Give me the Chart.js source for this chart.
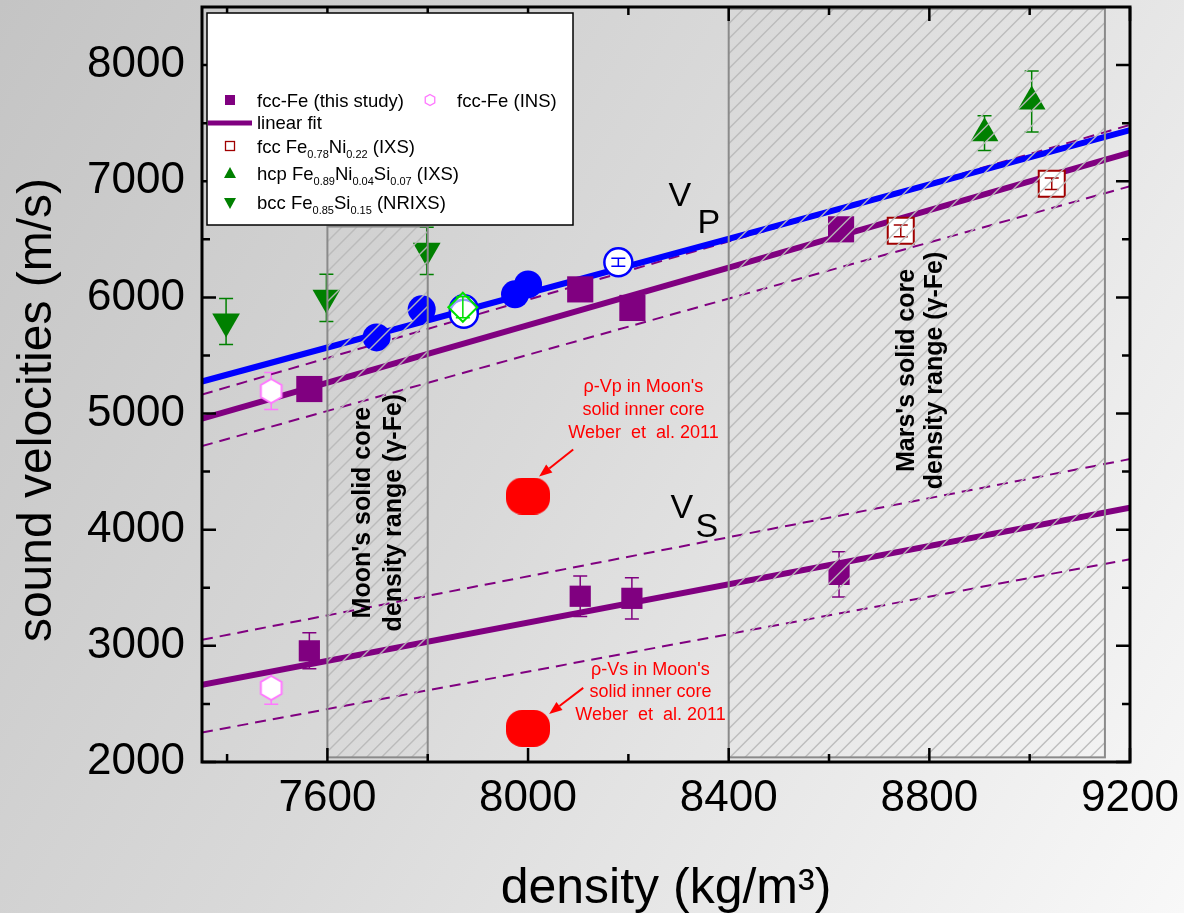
<!DOCTYPE html>
<html>
<head>
<meta charset="utf-8">
<script src="https://cdn.jsdelivr.net/npm/chart.js@4.4.0/dist/chart.umd.min.js"></script>
<style>
  html, body { margin: 0; padding: 0; }
  body {
    width: 1184px; height: 913px; overflow: hidden;
    background: linear-gradient(120deg, #c4c4c4 0%, #d9d9d9 45%, #f8f8f8 100%);
  }
  #graph { display: block; }
</style>
</head>
<body>
<canvas id="graph" width="1184" height="913"></canvas>
<script>
// 横軸の目盛り
const xTickValues = [7600, 8000, 8400, 8800, 9200];
const xMinorTicks = [7400, 7800, 8200, 8600, 9000];
// 縦軸の目盛り
const yTickValues = [2000, 3000, 4000, 5000, 6000, 7000, 8000];
const yMinorTicks = [2500, 3500, 4500, 5500, 6500, 7500];

// fcc-Fe (this study) Vp / Vs
const fccVpDensity = [7564, 8104, 8208, 8624];
const fccVpVel = [5211, 6069, 5909, 6586];
const fccVsDensity = [7564, 8104, 8207, 8620];
const fccVsVel = [2957, 3427, 3409, 3615];
const fccVsErr = [155, 175, 178, 195];

// fcc-Fe (INS)
const insDensity = [7488, 7488];
const insVel = [5194, 2638];
const insErr = [160, 140];

// fcc Fe0.78Ni0.22 (IXS)
const feNiDensity = [8743, 9044];
const feNiVel = [6573, 6978];
const feNiErr = [50, 50];

// hcp Fe0.89Ni0.04Si0.07 (IXS)
const hcpDensity = [8910, 9004];
const hcpVel = [7414, 7687];
const hcpErr = [150, 263];

// bcc Fe0.85Si0.15 (NRIXS)
const bccDensity = [7398, 7598, 7798];
const bccVel = [5793, 5996, 6401];
const bccErr = [198, 203, 203];

// 青丸 (Vp)
const blueDensity = [7698, 7788, 7974, 8000];
const blueVel = [5655, 5897, 6026, 6112];
const blueOpenDensity = [7872, 7872, 8180];
const blueOpenVel = [5897, 5860, 6302];
const blueOpenErr = [0, 0, 35];
const diamondDensity = [7870];
const diamondVel = [5915];
const diamondErr = [90];

// Weber et al. 2011 (月の内核)
const moonDensity = [8000, 8000];
const moonVel = [4290, 2290];

// 直線フィット (両端)
const fitDensity = [7350, 9200];
const blueFitVp = [5276, 7440];
const vpFit = [4957, 7246];
const vpFitUpper = [5164, 7485];
const vpFitLower = [4720, 6957];
const vsFit = [2664, 4190];
const vsFitUpper = [3052, 4608];
const vsFitLower = [2254, 3746];

// 密度範囲 (月, 火星)
const rangeDensity = [[7600, 7800], [8400, 9150]];
const rangeVel = [[2040, 6610], [2040, 8485]];

const PURPLE = '#800080';
const GREEN = '#008000';
const BLUE = '#0000ff';
const DARKRED = '#a00000';
const PINK = '#ff77ff';
const RED = '#ff0000';
const FONT = '"Liberation Sans", Arial, sans-serif';

function pts(xs, ys) {
  return xs.map(function(x, i) { return {x: x, y: ys[i]}; });
}

function hexPath(g, cx, cy, r) {
  g.beginPath();
  for (let k = 0; k < 6; k++) {
    const a = -Math.PI / 2 + k * Math.PI / 3;
    const px = cx + r * Math.cos(a), py = cy + r * Math.sin(a);
    if (k === 0) g.moveTo(px, py); else g.lineTo(px, py);
  }
  g.closePath();
}

function makeHexagon(r, lw) {
  const c = document.createElement('canvas');
  const w = Math.ceil(2 * r + lw + 2);
  c.width = w; c.height = w;
  const g = c.getContext('2d');
  hexPath(g, w / 2, w / 2, r);
  g.fillStyle = '#fff'; g.fill();
  g.strokeStyle = PINK; g.lineWidth = lw; g.stroke();
  return c;
}

function makeBlob(w, h) {
  const c = document.createElement('canvas');
  c.width = w; c.height = h;
  const g = c.getContext('2d');
  g.beginPath();
  g.roundRect(0, 0, w, h, 16);
  g.fillStyle = RED; g.fill();
  return c;
}

const hexImg = makeHexagon(12, 2);
const blobImg = makeBlob(44, 37);

function lineSet(ys, color, width, dash) {
  return {
    data: pts(fitDensity, ys), showLine: true, pointRadius: 0,
    borderColor: color, borderWidth: width, borderDash: dash || [],
    fill: false, order: 10
  };
}

const datasets = [
  lineSet(blueFitVp, BLUE, 6),
  lineSet(vpFit, PURPLE, 6),
  lineSet(vpFitUpper, PURPLE, 2, [11, 7]),
  lineSet(vpFitLower, PURPLE, 2, [11, 7]),
  lineSet(vsFit, PURPLE, 6),
  lineSet(vsFitUpper, PURPLE, 2, [11, 7]),
  lineSet(vsFitLower, PURPLE, 2, [11, 7]),
  {data: pts(fccVpDensity, fccVpVel), pointStyle: 'rect', pointRadius: 18.5,
   backgroundColor: PURPLE, borderColor: PURPLE, borderWidth: 0, order: 2},
  {data: pts(fccVsDensity, fccVsVel), pointStyle: 'rect', pointRadius: 15,
   backgroundColor: PURPLE, borderColor: PURPLE, borderWidth: 0, order: 2, errY: fccVsErr},
  {data: pts(insDensity, insVel), pointStyle: hexImg, pointRadius: 12,
   borderColor: PINK, order: 2, errY: insErr},
  {data: pts(feNiDensity, feNiVel), pointStyle: 'rect', pointRadius: 18.4,
   backgroundColor: '#fff', borderColor: DARKRED, borderWidth: 2, order: 2, errY: feNiErr, errTop: true},
  {data: pts(hcpDensity, hcpVel), pointStyle: 'triangle', pointRadius: 16,
   backgroundColor: GREEN, borderColor: GREEN, borderWidth: 0, order: 2, errY: hcpErr},
  {data: pts(bccDensity, bccVel), pointStyle: 'triangle', pointRotation: 180, pointRadius: 16,
   backgroundColor: GREEN, borderColor: GREEN, borderWidth: 0, order: 2, errY: bccErr},
  {data: pts(blueDensity, blueVel), pointStyle: 'circle', pointRadius: 14,
   backgroundColor: BLUE, borderColor: BLUE, borderWidth: 0, order: 2},
  {data: pts(blueOpenDensity, blueOpenVel), pointStyle: 'circle', pointRadius: 14,
   backgroundColor: '#fff', borderColor: BLUE, borderWidth: 2.5, order: 2, errY: blueOpenErr, errTop: true},
  {data: pts(diamondDensity, diamondVel), pointStyle: 'rectRot', pointRadius: 14.5,
   backgroundColor: 'rgba(255,255,255,0.6)', borderColor: '#00e000', borderWidth: 2, order: 1,
   errY: diamondErr, errTop: true},
  {data: pts(moonDensity, moonVel), pointStyle: blobImg, pointRadius: 20, order: 2}
];

// エラーバー
function drawErrorBars(chart, onTop) {
  const ctx = chart.ctx, ys = chart.scales.y;
  chart.data.datasets.forEach(function(ds, i) {
    if (!ds.errY || !!ds.errTop !== onTop) return;
    const meta = chart.getDatasetMeta(i);
    ctx.save();
    ctx.strokeStyle = ds.borderColor;
    ctx.lineWidth = 1.5;
    meta.data.forEach(function(pt, j) {
      const e = ds.errY[j];
      if (!e) return;
      const v = ds.data[j].y;
      const top = ys.getPixelForValue(v + e), bot = ys.getPixelForValue(v - e);
      ctx.beginPath();
      ctx.moveTo(pt.x, top); ctx.lineTo(pt.x, bot);
      ctx.moveTo(pt.x - 7, top); ctx.lineTo(pt.x + 7, top);
      ctx.moveTo(pt.x - 7, bot); ctx.lineTo(pt.x + 7, bot);
      ctx.stroke();
    });
    ctx.restore();
  });
}

// 密度範囲の斜線ボックス
function drawRegions(chart) {
  const {ctx, scales: {x, y}} = chart;
  rangeDensity.forEach(function(xr, i) {
    const x0 = x.getPixelForValue(xr[0]), x1 = x.getPixelForValue(xr[1]);
    const y0 = y.getPixelForValue(rangeVel[i][1]), y1 = y.getPixelForValue(rangeVel[i][0]);
    const h = y1 - y0;
    ctx.save();
    ctx.beginPath(); ctx.rect(x0, y0, x1 - x0, h); ctx.clip();
    ctx.strokeStyle = 'rgba(185,185,185,0.95)';
    ctx.lineWidth = 1.4;
    ctx.beginPath();
    for (let s = x0 - h; s < x1; s += 15) {
      ctx.moveTo(s, y1); ctx.lineTo(s + h, y0);
    }
    ctx.stroke();
    ctx.restore();
    ctx.save();
    ctx.strokeStyle = '#8a8a8a'; ctx.lineWidth = 2;
    ctx.strokeRect(x0, y0, x1 - x0, h);
    ctx.restore();
  });
}

// 枠と内向き目盛り
function drawFrame(chart) {
  const {ctx, chartArea: a, scales: {x, y}} = chart;
  ctx.save();
  ctx.strokeStyle = '#000';
  ctx.lineWidth = 2.5;
  ctx.beginPath();
  function xt(vals, len) {
    vals.forEach(function(v) {
      const p = x.getPixelForValue(v);
      ctx.moveTo(p, a.bottom); ctx.lineTo(p, a.bottom - len);
      ctx.moveTo(p, a.top); ctx.lineTo(p, a.top + len);
    });
  }
  function yt(vals, len) {
    vals.forEach(function(v) {
      const p = y.getPixelForValue(v);
      ctx.moveTo(a.left, p); ctx.lineTo(a.left + len, p);
      ctx.moveTo(a.right, p); ctx.lineTo(a.right - len, p);
    });
  }
  xt(xTickValues, 14); xt(xMinorTicks, 8);
  yt(yTickValues, 14); yt(yMinorTicks, 8);
  ctx.stroke();
  ctx.lineWidth = 3;
  ctx.strokeRect(a.left, a.top, a.right - a.left, a.bottom - a.top);
  ctx.restore();
}

// 縦軸タイトル
function drawYTitle(chart) {
  const ctx = chart.ctx;
  ctx.save();
  ctx.fillStyle = '#000';
  ctx.font = '48px ' + FONT;
  ctx.textAlign = 'center'; ctx.textBaseline = 'middle';
  ctx.translate(38, 410);
  ctx.rotate(-Math.PI / 2);
  ctx.fillText('sound velocities (m/s)', 0, 0);
  ctx.restore();
}

// 下付き文字つきテキスト
function drawParts(ctx, parts, x, y) {
  parts.forEach(function(p) {
    ctx.font = (p[1] ? '11px ' : '18.5px ') + FONT;
    ctx.fillText(p[0], x, p[1] ? y + 5 : y);
    x += ctx.measureText(p[0]).width;
  });
}

function drawLegend(chart) {
  const ctx = chart.ctx;
  ctx.save();
  ctx.fillStyle = '#fff';
  ctx.fillRect(207, 13, 366, 212);
  ctx.strokeStyle = '#000'; ctx.lineWidth = 1.5;
  ctx.strokeRect(207, 13, 366, 212);

  // markers
  ctx.fillStyle = PURPLE; ctx.fillRect(225, 95, 10, 10);
  hexPath(ctx, 430, 100, 5.5);
  ctx.fillStyle = '#fff'; ctx.fill();
  ctx.strokeStyle = PINK; ctx.lineWidth = 1.3; ctx.stroke();
  ctx.strokeStyle = PURPLE; ctx.lineWidth = 5;
  ctx.beginPath(); ctx.moveTo(208, 123); ctx.lineTo(252, 123); ctx.stroke();
  ctx.strokeStyle = DARKRED; ctx.lineWidth = 1.3;
  ctx.strokeRect(225.5, 141.5, 9, 9);
  ctx.fillStyle = GREEN;
  ctx.beginPath(); ctx.moveTo(230, 167); ctx.lineTo(236, 178); ctx.lineTo(224, 178); ctx.closePath(); ctx.fill();
  ctx.beginPath(); ctx.moveTo(224, 198); ctx.lineTo(236, 198); ctx.lineTo(230, 209); ctx.closePath(); ctx.fill();

  ctx.fillStyle = '#000';
  ctx.textAlign = 'left'; ctx.textBaseline = 'alphabetic';
  drawParts(ctx, [['fcc-Fe (this study)', 0]], 257, 106.5);
  drawParts(ctx, [['fcc-Fe (INS)', 0]], 457, 106.5);
  drawParts(ctx, [['linear fit', 0]], 257, 129);
  drawParts(ctx, [['fcc Fe', 0], ['0.78', 1], ['Ni', 0], ['0.22', 1], [' (IXS)', 0]], 257, 152.5);
  drawParts(ctx, [['hcp Fe', 0], ['0.89', 1], ['Ni', 0], ['0.04', 1], ['Si', 0], ['0.07', 1], [' (IXS)', 0]], 257, 180);
  drawParts(ctx, [['bcc Fe', 0], ['0.85', 1], ['Si', 0], ['0.15', 1], [' (NRIXS)', 0]], 257, 209);
  ctx.restore();
}

function arrow(ctx, x0, y0, x1, y1) {
  const a = Math.atan2(y1 - y0, x1 - x0), L = 13, W = 5;
  const bx = x1 - L * Math.cos(a), by = y1 - L * Math.sin(a);
  ctx.beginPath(); ctx.moveTo(x0, y0); ctx.lineTo(bx, by); ctx.stroke();
  ctx.beginPath(); ctx.moveTo(x1, y1);
  ctx.lineTo(bx + W * Math.sin(a), by - W * Math.cos(a));
  ctx.lineTo(bx - W * Math.sin(a), by + W * Math.cos(a));
  ctx.closePath(); ctx.fill();
}

function drawNotes(chart) {
  const {ctx, scales: {x, y}} = chart;
  const px = function(v) { return x.getPixelForValue(v); };
  const py = function(v) { return y.getPixelForValue(v); };
  ctx.save();
  ctx.fillStyle = '#000';
  ctx.textAlign = 'left'; ctx.textBaseline = 'alphabetic';
  ctx.font = '34px ' + FONT;
  ctx.fillText('V', px(8280), py(6784));
  ctx.fillText('P', px(8338), py(6552));
  ctx.fillText('V', px(8284), py(4103));
  ctx.fillText('S', px(8334), py(3940));

  // 回転ラベル
  ctx.font = 'bold 25px ' + FONT;
  ctx.textAlign = 'center'; ctx.textBaseline = 'middle';
  function rot(t, vx, vy) {
    ctx.save(); ctx.translate(px(vx), py(vy)); ctx.rotate(-Math.PI / 2);
    ctx.fillText(t, 0, 0); ctx.restore();
  }
  rot("Moon's solid core", 7672, 4147);
  rot('density range (γ-Fe)', 7732, 4147);
  rot("Mars's solid core", 8756, 5371);
  rot('density range (γ-Fe)', 8812, 5371);

  // 赤い注記
  ctx.fillStyle = RED; ctx.strokeStyle = RED; ctx.lineWidth = 2;
  ctx.font = '18px ' + FONT;
  ctx.fillText("ρ-Vp in Moon's", px(8230), py(5224));
  ctx.fillText('solid inner core', px(8230), py(5034));
  ctx.fillText('Weber  et  al. 2011', px(8230), py(4836));
  ctx.fillText("ρ-Vs in Moon's", px(8244), py(2793));
  ctx.fillText('solid inner core', px(8244), py(2603));
  ctx.fillText('Weber  et  al. 2011', px(8244), py(2405));
  arrow(ctx, px(8090), py(4690), px(8022), py(4457));
  arrow(ctx, px(8110), py(2638), px(8042), py(2414));
  ctx.restore();
}

const decorPlugin = {
  id: 'decor',
  beforeDatasetsDraw: function(chart) { drawErrorBars(chart, false); },
  afterDatasetsDraw: function(chart) {
    drawErrorBars(chart, true);
    drawRegions(chart);
    drawFrame(chart);
    drawLegend(chart);
    drawNotes(chart);
    drawYTitle(chart);
  }
};

new Chart(document.getElementById('graph'), {
  type: 'scatter',
  data: {datasets: datasets},
  plugins: [decorPlugin],
  options: {
    responsive: false,
    animation: false,
    events: [],
    layout: {autoPadding: false, padding: {top: 7, right: 54, bottom: 0, left: 0}},
    plugins: {legend: {display: false}, tooltip: {enabled: false}},
    scales: {
      x: {
        type: 'linear', min: 7350, max: 9200,
        afterBuildTicks: function(s) { s.ticks = xTickValues.map(function(v) { return {value: v}; }); },
        afterFit: function(s) {
          s.height = 151;
          s.paddingLeft = 0; s.paddingRight = 0; s.paddingTop = 0; s.paddingBottom = 0;
        },
        grid: {display: false, drawTicks: false},
        border: {display: false},
        ticks: {color: '#000', padding: 10, font: {family: FONT, size: 44},
                maxRotation: 0, autoSkip: false,
                callback: function(v) { return String(v); }},
        title: {display: true, text: 'density (kg/m³)', color: '#000',
                font: {family: FONT, size: 50, lineHeight: 0.9}, padding: {top: 0, bottom: 1.5}}
      },
      y: {
        type: 'linear', min: 2000, max: 8500,
        afterBuildTicks: function(s) { s.ticks = yTickValues.map(function(v) { return {value: v}; }); },
        afterFit: function(s) {
          s.width = 202;
          s.paddingLeft = 0; s.paddingRight = 0; s.paddingTop = 0; s.paddingBottom = 0;
        },
        grid: {display: false, drawTicks: false},
        border: {display: false},
        ticks: {color: '#000', padding: 17, font: {family: FONT, size: 44}, autoSkip: false,
                callback: function(v) { return String(v); }},
        title: {display: false}
      }
    }
  }
});
</script>
</body>
</html>
